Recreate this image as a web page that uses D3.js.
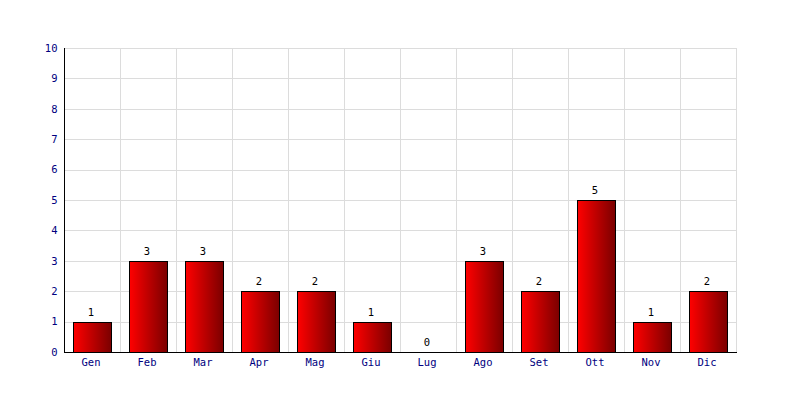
<!DOCTYPE html>
<html><head><meta charset="utf-8">
<script src="https://cdn.jsdelivr.net/npm/d3@7"></script>
<style>body{margin:0;background:#fff}svg{display:block}</style>
</head><body><svg id="c" width="800" height="400"></svg>
<script>
const months = ["Gen","Feb","Mar","Apr","Mag","Giu","Lug","Ago","Set","Ott","Nov","Dic"];
const values = [1,3,3,2,2,1,0,3,2,5,1,2];
const yTicks = [0,1,2,3,4,5,6,7,8,9,10];

(function(){
const svg = d3.select("#c");
const pl = 64, pr = 736, pt = 48, pb = 352;
const x = d3.scaleBand().domain(months).range([pl, pr]).paddingInner(0.32).paddingOuter(0.16);
const xb = d3.scaleBand().domain(months).range([pl, pr]);
const y = d3.scaleLinear().domain([0, 10]).range([pb, pt]);

const defs = svg.append("defs");
const g = defs.append("linearGradient").attr("id","gr").attr("x1","0").attr("x2","1").attr("y1","0").attr("y2","0");
g.append("stop").attr("offset","0").attr("stop-color","#ff0000");
g.append("stop").attr("offset","1").attr("stop-color","#7a0000");

const font = "DejaVu Sans Mono, monospace";
const fs = 10.5;
svg.append("g").selectAll("line").data(yTicks).join("line")
  .attr("x1", pl).attr("x2", pr + 0.5)
  .attr("y1", d => Math.round(y(d)) + 0.5).attr("y2", d => Math.round(y(d)) + 0.5)
  .attr("stroke", "#dcdcdc");
svg.append("g").selectAll("line").data(months.slice(1).concat(["_end"])).join("line")
  .attr("x1", d => d === "_end" ? pr + 0.5 : xb(d) + 0.5)
  .attr("x2", d => d === "_end" ? pr + 0.5 : xb(d) + 0.5)
  .attr("y1", pt).attr("y2", pb)
  .attr("stroke", "#dcdcdc");

svg.append("g").selectAll("rect").data(values).join("rect")
  .attr("x", (d,i) => Math.round(x(months[i])) + 0.5)
  .attr("width", Math.round(x.bandwidth()))
  .attr("y", d => Math.round(y(d)) + 0.5)
  .attr("height", d => Math.round(y(0)) - Math.round(y(d)))
  .attr("fill", "url(#gr)").attr("stroke", "#000").attr("stroke-width", 1)
  .style("display", d => d === 0 ? "none" : null);

svg.append("g").selectAll("text").data(values).join("text")
  .attr("x", (d,i) => x(months[i]) + x.bandwidth()/2 - 1)
  .attr("y", d => y(d) - 6)
  .attr("text-anchor","middle").attr("font-family", font).attr("font-size", fs).attr("fill","#000")
  .text(d => d);

const ax = svg.append("g").attr("transform", `translate(-1,${pb + 0.5})`)
  .call(d3.axisBottom(xb).tickSize(0).tickPadding(6));
ax.select(".domain").attr("stroke","#000").attr("d", `M${pl + 1},0H${pr + 2}`);
ax.selectAll("text").attr("font-family", font).attr("font-size", fs).attr("fill","#000080");

const ay = svg.append("g").attr("transform", `translate(${pl + 0.5},0)`)
  .call(d3.axisLeft(y).tickValues(yTicks).tickSize(0).tickPadding(7).tickFormat(d3.format("d")));
ay.select(".domain").attr("stroke","#000").attr("d", `M0,${pt}V${pb}`);
ay.selectAll("text").attr("font-family", font).attr("font-size", fs).attr("fill","#000080");
})();
</script></body></html>
